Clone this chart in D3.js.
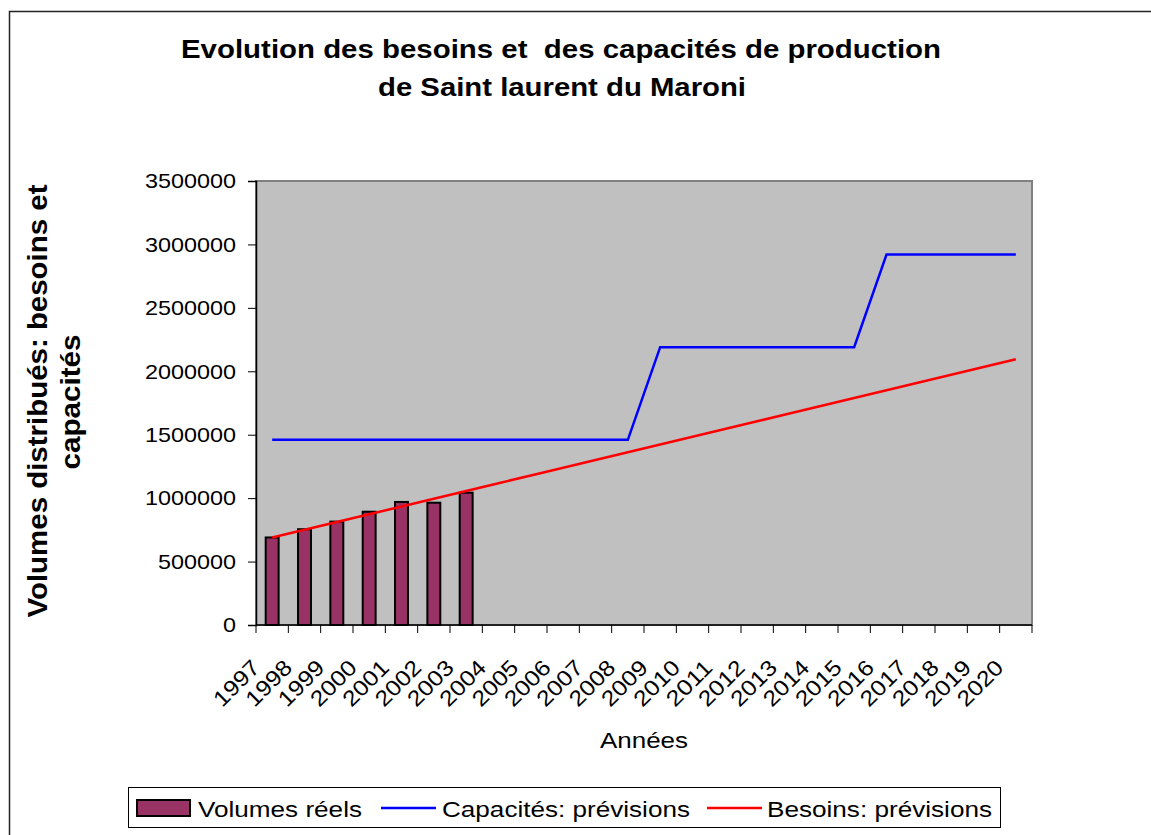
<!DOCTYPE html>
<html>
<head>
<meta charset="utf-8">
<script src="https://cdn.jsdelivr.net/npm/d3@7"></script>
<style>
body{margin:0;background:#fff;}
text{font-family:"Liberation Sans",Arial,sans-serif;fill:#000;}
</style>
</head>
<body>
<svg width="1151" height="835"></svg>
<script>
var years = ["1997","1998","1999","2000","2001","2002","2003","2004","2005","2006","2007","2008",
             "2009","2010","2011","2012","2013","2014","2015","2016","2017","2018","2019","2020"]
var volumesReels = [690000,755000,815000,893000,970000,964000,1043000]
var capacites = [1460000,1460000,1460000,1460000,1460000,1460000,1460000,1460000,1460000,1460000,1460000,1460000,
                 2190000,2190000,2190000,2190000,2190000,2190000,2190000,
                 2920000,2920000,2920000,2920000,2920000]
var besoins = [690000,751000,812000,873000,934000,995000,1057000,1118000,1179000,1240000,1301000,1362000,
               1423000,1484000,1545000,1606000,1667000,1728000,1789000,1850000,1911000,1972000,2034000,2095000]
var yTicks = [0,500000,1000000,1500000,2000000,2500000,3000000,3500000]
var legendLabels = ["Volumes réels","Capacités: prévisions","Besoins: prévisions"]

var plot = {left:256,right:1032,top:181,bottom:625}

var svg = d3.select("svg")

// the reference text is a little wider than the font: force the length
var fit = function(sel,len)
{
    sel.attr("textLength",len).attr("lengthAdjust","spacingAndGlyphs")
}

// outer chart frame
svg.append("rect")
   .attr("x",9.5).attr("y",11.5)
   .attr("width",1300).attr("height",900)
   .attr("fill","white").attr("stroke","#222").attr("stroke-width",1.5)

var xScale = d3.scaleBand()
               .domain(years)
               .range([plot.left,plot.right])
var yScale = d3.scaleLinear()
               .domain([0,3500000])
               .range([plot.bottom,plot.top])
var bw = xScale.bandwidth()
var cx = function(d,i){return xScale(years[i])+bw/2}

// plot area
svg.append("rect")
   .attr("x",plot.left).attr("y",plot.top)
   .attr("width",plot.right-plot.left).attr("height",plot.bottom-plot.top)
   .attr("fill","#c0c0c0").attr("stroke","#808080").attr("stroke-width",2)

// bars
svg.append("g")
   .selectAll("rect")
   .data(volumesReels)
   .enter()
   .append("rect")
   .attr("x",function(d,i){return cx(d,i)-bw*0.2})
   .attr("width",bw*0.4)
   .attr("y",function(d){return yScale(d)})
   .attr("height",function(d){return yScale(0)-yScale(d)})
   .attr("fill","#993366")
   .attr("stroke","#000").attr("stroke-width",2)

var line = d3.line()
             .x(cx)
             .y(function(d){return yScale(d)})

svg.append("path")
   .datum(capacites)
   .attr("d",line)
   .attr("fill","none").attr("stroke","#0000ff").attr("stroke-width",2.5)

svg.append("path")
   .datum(besoins)
   .attr("d",line)
   .attr("fill","none").attr("stroke","#ff0000").attr("stroke-width",2.5)

// y axis
var yAxis = d3.axisLeft(yScale)
              .tickValues(yTicks)
              .tickFormat(d3.format("d"))
              .tickSizeOuter(0)
              .tickSize(8)
              .tickPadding(12)
svg.append("g")
   .attr("transform","translate("+plot.left+",0)")
   .call(yAxis)
   .call(function(g){
       g.select(".domain").attr("stroke","#000").attr("stroke-width",1.5)
       g.selectAll(".tick line").attr("stroke","#000")
       g.selectAll(".tick text")
        .attr("font-size",21)
        .attr("font-family","Liberation Sans, Arial, sans-serif")
        .attr("fill","#000")
        .each(function(d){ fit(d3.select(this), String(d).length*13) })
   })

// x axis : ticks between categories
var bounds = years.map(function(y){return xScale(y)}).concat([plot.right])
var xg = svg.append("g")
xg.append("line")
  .attr("x1",plot.left).attr("x2",plot.right)
  .attr("y1",plot.bottom).attr("y2",plot.bottom)
  .attr("stroke","#000").attr("stroke-width",1.5)
xg.selectAll(".tk")
  .data(bounds)
  .enter()
  .append("line")
  .attr("x1",function(d){return d}).attr("x2",function(d){return d})
  .attr("y1",plot.bottom).attr("y2",plot.bottom+8)
  .attr("stroke","#000")
xg.selectAll("text")
  .data(years)
  .enter()
  .append("text")
  .attr("transform",function(d){return "translate("+(xScale(d)+bw/2-11)+","+(plot.bottom+44)+") rotate(-45)"})
  .attr("text-anchor","end")
  .attr("font-size",22)
  .text(function(d){return d})
  .call(fit,55)

// titles
var title = svg.append("text")
               .attr("text-anchor","middle")
               .attr("font-size",26)
               .attr("font-weight","bold")
               .style("white-space","pre")
title.append("tspan").attr("x",561).attr("y",58).text("Evolution des besoins et  des capacités de production").call(fit,760)
title.append("tspan").attr("x",562).attr("y",96).text("de Saint laurent du Maroni").call(fit,368)

svg.append("text")
   .attr("x",644).attr("y",748)
   .attr("text-anchor","middle")
   .attr("font-size",22)
   .text("Années")
   .call(fit,88)

var ytitle = svg.append("g")
ytitle.append("text")
      .attr("transform","translate(47,401) rotate(-90)")
      .attr("text-anchor","middle")
      .attr("font-size",27)
      .attr("font-weight","bold")
      .text("Volumes distribués: besoins et")
      .call(fit,433)
ytitle.append("text")
      .attr("transform","translate(80,402) rotate(-90)")
      .attr("text-anchor","middle")
      .attr("font-size",27)
      .attr("font-weight","bold")
      .text("capacités")
      .call(fit,135)

// legend
var legendX = [198,442,767]
var legendW = [164,248,225]
var lg = svg.append("g")
lg.append("rect")
  .attr("x",128.5).attr("y",787.5).attr("width",872).attr("height",40)
  .attr("fill","white").attr("stroke","#000").attr("stroke-width",1)
lg.append("rect")
  .attr("x",137).attr("y",800).attr("width",53).attr("height",16)
  .attr("fill","#993366").attr("stroke","#000").attr("stroke-width",2)
var legendLines = [{x:381,c:"#0000ff"},{x:707,c:"#ff0000"}]
legendLines.forEach(function(l){
    lg.append("line")
      .attr("x1",l.x).attr("x2",l.x+55)
      .attr("y1",808).attr("y2",808)
      .attr("stroke",l.c).attr("stroke-width",2.5)
})
lg.selectAll("text")
  .data(legendLabels)
  .enter()
  .append("text")
  .attr("x",function(d,i){return legendX[i]})
  .attr("y",817)
  .attr("font-size",22)
  .text(function(d){return d})
  .each(function(d,i){ fit(d3.select(this), legendW[i]) })
</script>
</body>
</html>
